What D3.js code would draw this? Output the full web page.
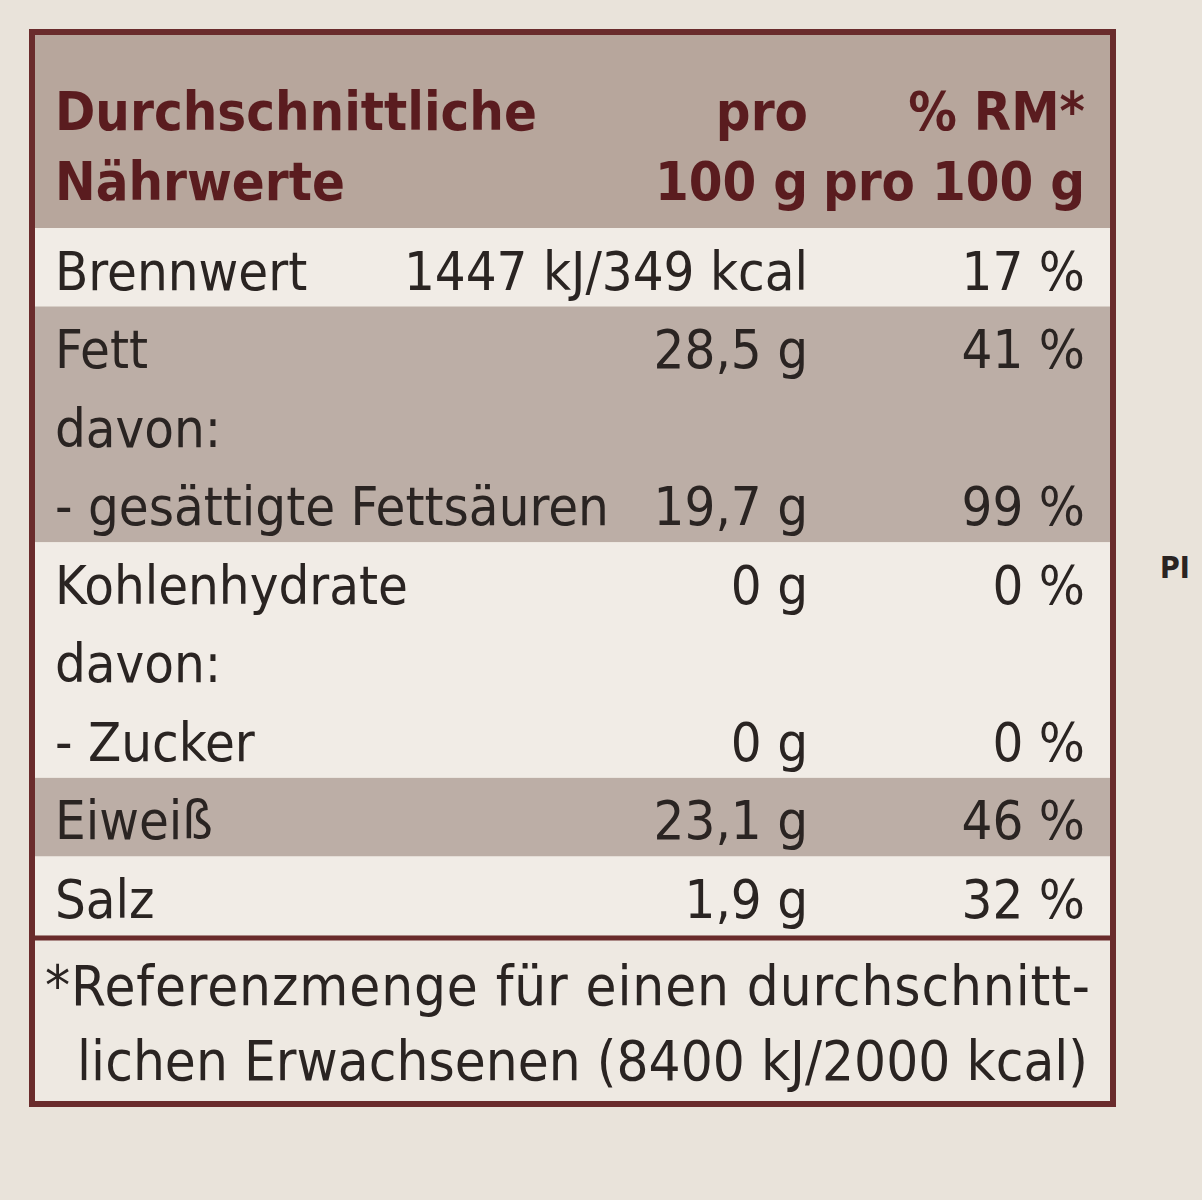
<!DOCTYPE html>
<html><head><meta charset="utf-8">
<script src="https://cdn.jsdelivr.net/npm/d3@7"></script>
<style>body{margin:0;background:#e9e3da}</style>
</head><body><div id="c"></div>
<script>
// one entry per text line of the label
var labels = ["Brennwert", "Fett", "davon:", "- gesättigte Fettsäuren", "Kohlenhydrate", "davon:", "- Zucker", "Eiweiß", "Salz"];
var amounts = ["1447 kJ/349 kcal", "28,5 g", "", "19,7 g", "0 g", "", "0 g", "23,1 g", "1,9 g"];
var percents = ["17 %", "41 %", "", "99 %", "0 %", "", "0 %", "46 %", "32 %"];
var groups = [0, 1, 1, 1, 2, 2, 2, 3, 4];
var shaded = [false, true, false, true, false];
var header = [["Durchschnittliche", "pro", "% RM*"], ["Nährwerte", "100 g", "pro 100 g"]];
var footnote = ["*Referenzmenge für einen durchschnitt-", "  lichen Erwachsenen (8400 kJ/2000 kcal)"];

var W = 1202, H = 1200, font = "'Liberation Sans Narrow','DejaVu Sans Condensed',sans-serif";
var svg = d3.select("#c").append("svg").attr("width", W).attr("height", H);
svg.append("rect").attr("width", W).attr("height", H).attr("fill", "#e9e3da");

var x0 = 32, x1 = 1113, colA = 808, colB = 1085, lx = 55;
var y = d3.scaleLinear().domain([0, 9]).range([228, 935]); // line index -> y
var g = svg.append("g");

// header band
g.append("rect").attr("x", x0).attr("y", 34).attr("width", x1 - x0).attr("height", 194).attr("fill", "#b7a69c");
// group bands
var bounds = d3.range(5).map(function (k) {
  var idx = groups.map(function (v, i) { return v === k ? i : -1; }).filter(function (i) { return i >= 0; });
  return { k: k, y0: y(idx[0]), y1: y(idx[idx.length - 1] + 1) };
});
g.selectAll("rect.band").data(bounds).enter().append("rect").attr("class", "band")
  .attr("x", x0).attr("width", x1 - x0)
  .attr("y", function (d) { return d.y0; }).attr("height", function (d) { return d.y1 - d.y0; })
  .attr("fill", function (d) { return shaded[d.k] ? "#bcaea6" : "#f1ece6"; });
// footnote area
g.append("rect").attr("x", x0).attr("y", 940).attr("width", x1 - x0).attr("height", 163).attr("fill", "#eee9e2");
g.append("line").attr("x1", x0).attr("x2", x1).attr("y1", 938).attr("y2", 938).attr("stroke", "#6a2c2c").attr("stroke-width", 5);
g.append("rect").attr("x", x0).attr("y", 32).attr("width", x1 - x0).attr("height", 1072)
  .attr("fill", "none").attr("stroke", "#6a2c2c").attr("stroke-width", 6);

// header text
header.forEach(function (h, i) {
  var by = 130 + i * 70;
  [[lx, "start", h[0]], [colA, "end", h[1]], [colB, "end", h[2]]].forEach(function (c) {
    g.append("text").attr("x", c[0]).attr("y", by).attr("text-anchor", c[1]).text(c[2])
      .attr("font-family", font).attr("font-weight", "bold").attr("font-size", 54).attr("fill", "#5a1c1f");
  });
});

// body rows
var rows = g.selectAll("g.row").data(labels).enter().append("g").attr("class", "row")
  .attr("transform", function (d, i) { return "translate(0," + (y(i + 1) - 17) + ")"; })
  .attr("font-family", font).attr("font-size", 54).attr("fill", "#2a2422");
rows.append("text").attr("x", lx).text(function (d) { return d; });
rows.append("text").attr("x", colA).attr("text-anchor", "end").text(function (d, i) { return amounts[i]; });
rows.append("text").attr("x", colB).attr("text-anchor", "end").text(function (d, i) { return percents[i]; });

g.selectAll("text.fn").data(footnote).enter().append("text").attr("class", "fn")
  .attr("x", 45).attr("y", function (d, i) { return 1005 + i * 75; })
  .attr("font-family", font).attr("font-size", 56).attr("fill", "#2a2422")
  .attr("textLength", function (d, i) { return i ? 1043 : 1045; })
  .style("white-space", "pre").text(function (d) { return d; });

svg.append("text").attr("x", 1160).attr("y", 578).text("PI").attr("font-family", font)
  .attr("font-weight", "bold").attr("font-size", 30).attr("fill", "#2a2422");
</script></body></html>
